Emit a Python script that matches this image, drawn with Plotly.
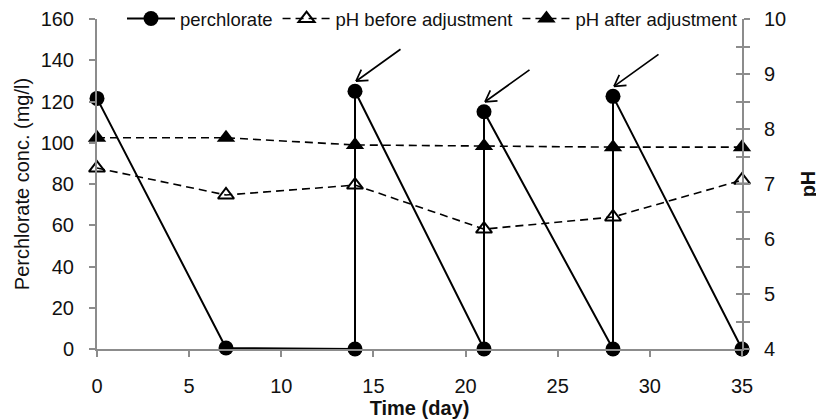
import plotly.graph_objects as go

# Data
perc_day = [0, 7, 14, 14, 21, 21, 28, 28, 35]
perc_conc = [121.5, 0.5, 0, 125, 0, 115, 0, 122.5, 0]
ph_day = [0, 7, 14, 21, 28, 35]
ph_before = [7.29, 6.8, 6.98, 6.18, 6.4, 7.07]
ph_after = [7.84, 7.84, 7.71, 7.69, 7.67, 7.67]
arrow_day = [14, 21, 28]
arrow_conc = [125, 115, 122.5]
x_ticks = [0, 5, 10, 15, 20, 25, 30, 35]
left_ticks = [0, 20, 40, 60, 80, 100, 120, 140, 160]
right_ticks = [4, 5, 6, 7, 8, 9, 10]

FONT = "Liberation Sans, Arial, sans-serif"
AX = "#8c8c8c"
DASH = "8px,5px"

fig = go.Figure()
fig.add_trace(go.Scatter(x=ph_day, y=ph_before, name="pH before adjustment", mode="lines+markers",
                         line=dict(color="black", width=1.6, dash=DASH),
                         marker=dict(symbol="triangle-up-open", size=14, color="black", line=dict(width=2)),
                         cliponaxis=False, yaxis="y2", legendrank=2))
fig.add_trace(go.Scatter(x=ph_day, y=ph_after, name="pH after adjustment", mode="lines+markers",
                         line=dict(color="black", width=1.6, dash=DASH),
                         marker=dict(symbol="triangle-up", size=16, color="black"),
                         cliponaxis=False, yaxis="y2", legendrank=3))
fig.add_trace(go.Scatter(x=[None], y=[None], yaxis="y3", showlegend=False, hoverinfo="skip"))
fig.add_trace(go.Scatter(x=perc_day, y=perc_conc, name="perchlorate", mode="lines+markers",
                         line=dict(color="black", width=2), marker=dict(symbol="circle", size=15, color="black"),
                         cliponaxis=False, yaxis="y", legendrank=1))

# arrows: shaft plus two barbs (open V head), offsets in pixels
for d, c in zip(arrow_day, arrow_conc):
    for ax_, ay_ in [(46, -33), (14, -1), (6, -13)]:
        fig.add_annotation(x=d, y=c, xref="x", yref="y", ax=ax_, ay=ay_,
                           text="", showarrow=True, arrowhead=0, arrowwidth=1.7,
                           arrowcolor="black", standoff=0, xshift=1, yshift=10)

# page body has an 8px margin: figure is offset by (8, 8)
fig.update_layout(
    width=816, height=411,
    margin=dict(l=89, r=82, t=11, b=70, autoexpand=False),
    paper_bgcolor="white", plot_bgcolor="white",
    font=dict(family=FONT, color="#111", size=20),
    showlegend=True,
    legend=dict(orientation="h", x=1.0, xanchor="right", y=1 - 11 / 411, yanchor="middle",
                yref="container",
                bgcolor="rgba(0,0,0,0)", font=dict(size=18.5, family=FONT), itemwidth=48,
                tracegroupgap=0),
    xaxis=dict(range=[0, 35], tickvals=x_ticks, showgrid=False, zeroline=False, automargin=False,
               showline=True, linecolor=AX, linewidth=2, ticks="outside", tickcolor=AX,
               ticklen=6, tickwidth=2, tickfont=dict(size=20), ticklabelstandoff=12,
               title=dict(text="<b>Time (day)</b>", font=dict(size=20), standoff=2)),
    yaxis=dict(range=[0, 160], tickvals=left_ticks, showgrid=False, zeroline=False, automargin=False,
               showline=True, linecolor=AX, linewidth=2, ticks="outside", tickcolor=AX,
               ticklen=6, tickwidth=2, tickfont=dict(size=20), ticklabelstandoff=11,
               title=dict(text="Perchlorate conc. (mg/l)", font=dict(size=20), standoff=6)),
    yaxis2=dict(range=[4, 10], tickvals=right_ticks, overlaying="y", side="right", automargin=False,
                showgrid=False, zeroline=False, showline=True, linecolor=AX, linewidth=2,
                ticks="outside", tickcolor=AX, ticklen=6, tickwidth=2, tickfont=dict(size=20),
                ticklabelstandoff=10,
                minor=dict(dtick=0.5, ticks="outside", ticklen=6, tickcolor=AX, tickwidth=2),
                title=dict(text="<b>pH</b>", font=dict(size=20), standoff=16)),
    yaxis3=dict(range=[4, 10], overlaying="y", side="right", showgrid=False, zeroline=False,
                automargin=False, showline=False, tickvals=right_ticks, showticklabels=False,
                ticks="inside", tickcolor=AX, ticklen=6, tickwidth=2,
                minor=dict(dtick=0.5, ticks="inside", ticklen=6, tickcolor=AX, tickwidth=2)),
)
fig.write_html("out.html")
